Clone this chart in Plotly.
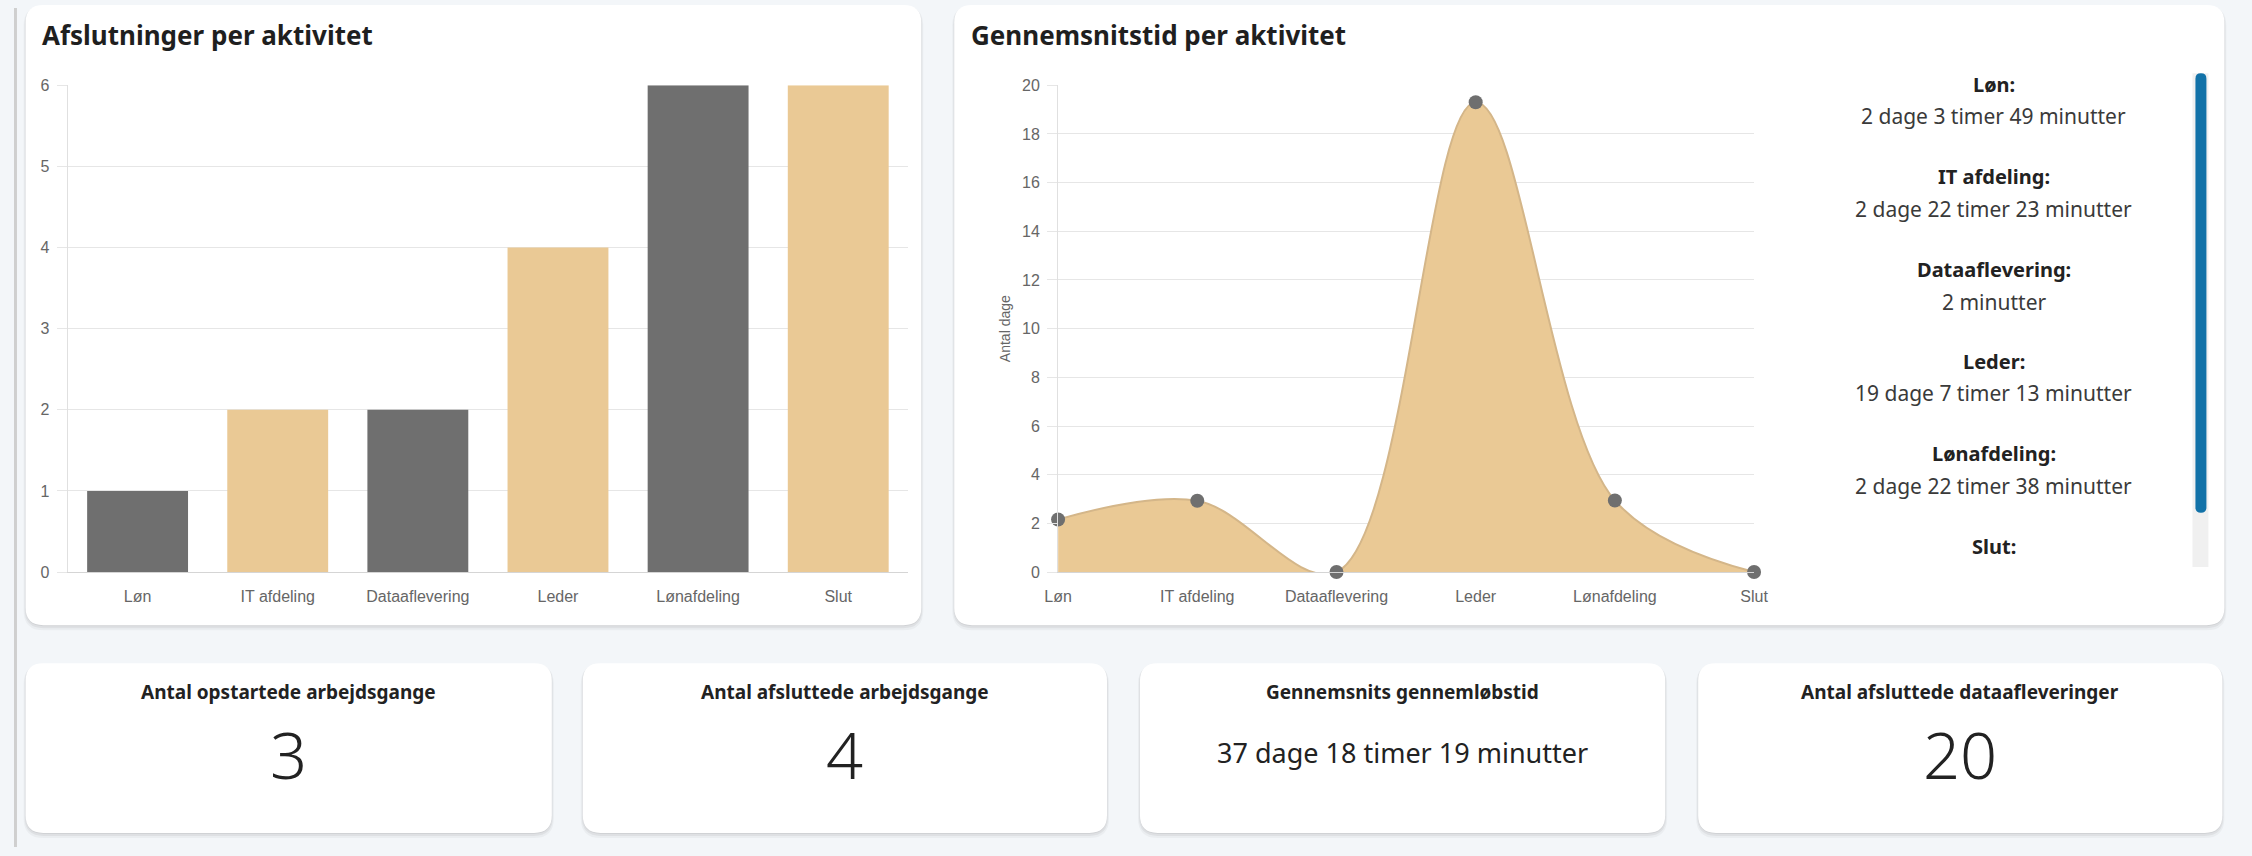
import plotly.graph_objects as go

# ---------------- data ----------------
categories = ["Løn", "IT afdeling", "Dataaflevering", "Leder", "Lønafdeling", "Slut"]
completions = [1, 2, 2, 4, 6, 6]
avg_days = [2.16, 2.93, 0.0014, 19.30, 2.94, 0.0]
duration_labels = [
    "2 dage 3 timer 49 minutter",
    "2 dage 22 timer 23 minutter",
    "2 minutter",
    "19 dage 7 timer 13 minutter",
    "2 dage 22 timer 38 minutter",
    "",
]
kpi_titles = [
    "Antal opstartede arbejdsgange",
    "Antal afsluttede arbejdsgange",
    "Gennemsnits gennemløbstid",
    "Antal afsluttede dataafleveringer",
]
kpi_values = ["3", "4", "37 dage 18 timer 19 minutter", "20"]

# ---------------- style ----------------
W, H = 2252, 856
BG = "#f3f6f9"
GRAY = "#6f6f6f"
TAN = "#eac995"
bar_palette = [GRAY, TAN]
UI_FONT = "Noto Sans"
AX_FONT = "Liberation Sans"

# photographed figure sits slightly inset; map target screen pixels -> figure pixels
OX, SX = 14.4, 0.989
OY, SY = 10.0, 0.9766


def fxp(x):
    return (x - OX) / SX


def fyp(y):
    return (y - OY) / SY


def px(x):
    return fxp(x) / W


def py(y):
    return 1 - fyp(y) / H


def rrect(x0, y0, x1, y1, r):
    X0, X1 = px(x0), px(x1)
    Y0, Y1 = py(y0), py(y1)
    rx, ry = r / W, r / H
    return (
        f"M {X0 + rx},{Y0} L {X1 - rx},{Y0} Q {X1},{Y0} {X1},{Y0 - ry} "
        f"L {X1},{Y1 + ry} Q {X1},{Y1} {X1 - rx},{Y1} "
        f"L {X0 + rx},{Y1} Q {X0},{Y1} {X0},{Y1 + ry} "
        f"L {X0},{Y0 - ry} Q {X0},{Y0} {X0 + rx},{Y0} Z"
    )


shapes = []


def card(x0, y0, x1, y1, r=18):
    for dy, grow, a in [(3, 2, 0.035), (2, 1, 0.05), (1, 0, 0.06)]:
        shapes.append(dict(type="path", xref="paper", yref="paper", layer="below",
                           path=rrect(x0 - grow, y0 - grow + dy, x1 + grow, y1 + grow + dy, r + grow),
                           fillcolor=f"rgba(0,0,0,{a})", line=dict(width=0)))
    shapes.append(dict(type="path", xref="paper", yref="paper", layer="below",
                       path=rrect(x0, y0, x1, y1, r), fillcolor="white", line=dict(width=0)))


# page edge line
shapes.append(dict(type="rect", xref="paper", yref="paper", layer="below",
                   x0=0, x1=3 / W, y0=0, y1=1, fillcolor="#cfcfcf", line=dict(width=0)))

# cards
card(26, 7, 923, 625)
card(956, 7, 2228, 625)
kpi_boxes = [(26, 663, 553, 832), (584, 663, 1109, 832), (1142, 663, 1668, 832), (1701, 663, 2226, 832)]
for b in kpi_boxes:
    card(*b)

# scrollbar
shapes.append(dict(type="rect", xref="paper", yref="paper", layer="above",
                   x0=px(2196), x1=px(2212), y0=py(567), y1=py(75), fillcolor="#f0f0f0", line=dict(width=0)))
shapes.append(dict(type="path", xref="paper", yref="paper", layer="above",
                   path=rrect(2199, 75, 2210, 513, 5.5), fillcolor="#1272a8", line=dict(width=0)))

fig = go.Figure()

fig.add_trace(go.Bar(
    x=categories, y=completions, xaxis="x", yaxis="y",
    marker=dict(color=[bar_palette[i % 2] for i in range(len(categories))], line=dict(width=0)),
    hoverinfo="x+y", showlegend=False,
))

fig.add_trace(go.Scatter(
    x=list(range(len(categories))), y=avg_days, xaxis="x2", yaxis="y2",
    mode="lines+markers", fill="tozeroy", fillcolor=TAN,
    line=dict(color="#d4b689", width=2, shape="spline", smoothing=1.0),
    marker=dict(color=GRAY, size=14), cliponaxis=False, showlegend=False,
))

tickfont = dict(family=AX_FONT, size=16, color="#666666")
grid = "#e6e6e6"

annotations = []
annotations.append(dict(text="Afslutninger per aktivitet", x=px(40), y=py(37), xref="paper", yref="paper",
                        xanchor="left", yanchor="middle", showarrow=False,
                        font=dict(family=UI_FONT, size=26, color="#1f1f1f", weight=700)))
annotations.append(dict(text="Gennemsnitstid per aktivitet", x=px(971), y=py(37), xref="paper", yref="paper",
                        xanchor="left", yanchor="middle", showarrow=False,
                        font=dict(family=UI_FONT, size=26, color="#1f1f1f", weight=700)))

# duration list
label_y = [86, 178, 271, 362, 454, 547]
for cat, dur, ly in zip(categories, duration_labels, label_y):
    annotations.append(dict(text=cat + ":", x=px(1997), y=py(ly), xref="paper", yref="paper",
                            xanchor="center", yanchor="middle", showarrow=False,
                            font=dict(family=UI_FONT, size=20, color="#222222", weight=700)))
    if dur:
        annotations.append(dict(text=dur, x=px(1997), y=py(ly + 32), xref="paper", yref="paper",
                                xanchor="center", yanchor="middle", showarrow=False,
                                font=dict(family=UI_FONT, size=21, color="#3a3a3a")))

# KPI cards
for (x0, y0, x1, y1), t, v in zip(kpi_boxes, kpi_titles, kpi_values):
    cx = (x0 + x1) / 2
    annotations.append(dict(text=t, x=px(cx), y=py(692), xref="paper", yref="paper",
                            xanchor="center", yanchor="middle", showarrow=False,
                            font=dict(family=UI_FONT, size=19, color="#222222", weight=700)))
    big = len(v) <= 3
    annotations.append(dict(text=v, x=px(cx), y=py(753 if big else 752), xref="paper", yref="paper",
                            xanchor="center", yanchor="middle", showarrow=False,
                            font=dict(family=UI_FONT, size=65 if big else 27, color="#222222",
                                      weight=300 if big else 400)))

fig.update_layout(
    width=W, height=H,
    margin=dict(l=0, r=0, t=0, b=0),
    paper_bgcolor=BG, plot_bgcolor="rgba(0,0,0,0)",
    bargap=0.28,
    shapes=shapes, annotations=annotations,
    xaxis=dict(domain=[px(68), px(910)], anchor="y", showgrid=False, zeroline=False,
               showline=True, linecolor="#d5d5d5", linewidth=1, ticks="",
               tickfont=tickfont, ticklabelstandoff=10, fixedrange=True),
    yaxis=dict(domain=[py(572), py(87)], anchor="x", range=[0, 6], dtick=1,
               showgrid=True, gridcolor=grid, gridwidth=1, zeroline=False,
               showline=True, linecolor="#e0e0e0", ticks="outside", ticklen=10, tickcolor=grid,
               tickfont=tickfont, ticklabelstandoff=4, fixedrange=True),
    xaxis2=dict(domain=[px(1060), px(1757)], anchor="y2", range=[0, 5],
                tickmode="array", tickvals=list(range(len(categories))), ticktext=categories,
                showgrid=False, zeroline=False, showline=True, linecolor="#d5d5d5", ticks="",
                tickfont=tickfont, ticklabelstandoff=10, fixedrange=True),
    yaxis2=dict(domain=[py(572), py(87)], anchor="x2", range=[0, 20], dtick=2,
                showgrid=True, gridcolor=grid, gridwidth=1, zeroline=False,
                showline=True, linecolor="#e0e0e0", ticks="outside", ticklen=10, tickcolor=grid,
                tickfont=tickfont, ticklabelstandoff=4, fixedrange=True,
                title=dict(text="Antal dage", font=dict(family=AX_FONT, size=14, color="#666666"),
                           standoff=8)),
    hovermode="closest",
)

fig.write_html(
    "out.html",
    config={"displayModeBar": False},
    post_script="document.body.style.margin='0';document.body.style.overflow='hidden';"
                "document.documentElement.style.overflow='hidden';",
)
